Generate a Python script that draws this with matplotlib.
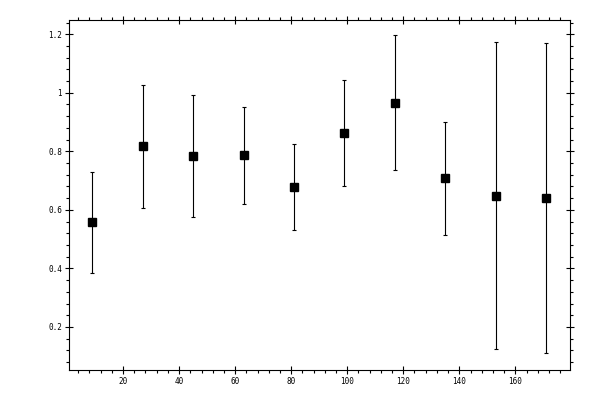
import matplotlib
matplotlib.use("Agg")
import matplotlib.pyplot as plt
from matplotlib.ticker import MultipleLocator, FuncFormatter

x = [9, 27, 45, 63, 81, 99, 117, 135, 153, 171]
y = [0.558, 0.817, 0.783, 0.786, 0.677, 0.862, 0.964, 0.708, 0.646, 0.640]
y_low = [0.383, 0.605, 0.575, 0.619, 0.530, 0.681, 0.735, 0.513, 0.124, 0.110]
y_high = [0.728, 1.028, 0.991, 0.950, 0.824, 1.043, 1.196, 0.899, 1.172, 1.169]

err_lo = [v - lo for v, lo in zip(y, y_low)]
err_hi = [hi - v for v, hi in zip(y, y_high)]

plt.rcParams['font.family'] = ['DejaVu Sans Mono']

fig = plt.figure(figsize=(6, 4), dpi=100)
ax = fig.add_axes([0.115, 0.075, 0.835, 0.876])

ax.errorbar(x, y, yerr=[err_lo, err_hi], fmt='s', color='black',
            ecolor='black', elinewidth=0.8, capsize=1.6, capthick=0.8,
            markersize=5.2)

ax.set_xlim(0.7, 179.5)
ax.set_ylim(0.053, 1.25)

ax.xaxis.set_major_locator(MultipleLocator(20))
ax.xaxis.set_minor_locator(MultipleLocator(4))
ax.yaxis.set_major_locator(MultipleLocator(0.2))
ax.yaxis.set_minor_locator(MultipleLocator(0.04))
ax.yaxis.set_major_formatter(FuncFormatter(lambda v, p: ('%g' % round(v, 2))))

ax.tick_params(which='major', direction='inout', length=6, width=0.8,
               top=True, right=True, labelsize=5.5, pad=2)
ax.tick_params(which='minor', direction='out', length=2.5, width=0.8,
               top=True, right=True)
for s in ax.spines.values():
    s.set_linewidth(0.8)

fig.savefig("out.png", dpi=100)
